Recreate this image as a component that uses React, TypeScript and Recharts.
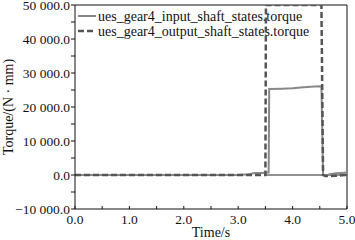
import React from 'react';
import { Line, LineChart, XAxis, YAxis, ReferenceLine } from 'recharts';

const times = [0, 0.5, 1, 1.5, 2, 2.5, 3, 3.2, 3.3, 3.45, 3.5, 3.51, 3.56, 3.57, 3.8, 4.0, 4.2, 4.4, 4.52, 4.53, 4.56, 4.6, 4.7, 4.8, 4.9, 5.0];
const inputTorque = [0, 0, 0, 0, 0, 0, 0, 200, 600, 600, 700, 700, 700, 25300, 25400, 25500, 25800, 26000, 26100, 26100, 300, -200, 300, 500, 600, 700];
const outputTorque = [0, 0, 0, 0, 0, 0, 0, 0, 0, 0, 0, 50000, 50000, 50000, 50000, 50000, 50000, 50000, 50000, 50000, 0, -300, -300, -200, -100, 0];

const xTicks = [0, 0.5, 1, 1.5, 2, 2.5, 3, 3.5, 4, 4.5, 5];
const yTicks = [-10000, -5000, 0, 5000, 10000, 15000, 20000, 25000, 30000, 35000, 40000, 45000, 50000];
const seriesNames = ['ues_gear4_input_shaft_states.torque', 'ues_gear4_output_shaft_states.torque'];

const data = times.map((t, i) => ({ t, input: inputTorque[i], output: outputTorque[i] }));

const font = '"Liberation Serif", "Times New Roman", Times, serif';

const fmtY = (v: number) => {
  if (v % 10000 !== 0) return '';
  const s = Math.abs(v).toString().replace(/\B(?=(\d{3})+(?!\d))/g, ' ') + '.0';
  return v < 0 ? '\u2212' + s : s;
};
const fmtX = (v: number) => (Number.isInteger(v) ? v.toFixed(1) : '');

const CustomLegend = () => (
  <g style={{ fontFamily: font }} fontSize={14} fill="#111">
    <line x1={78} x2={96} y1={16} y2={16} stroke="#888" strokeWidth={2} />
    <text x={98} y={21}>{seriesNames[0]}</text>
    <line x1={78} x2={96} y1={31} y2={31} stroke="#555" strokeWidth={2.5} strokeDasharray="6 3" />
    <text x={98} y={36}>{seriesNames[1]}</text>
  </g>
);

const tickStyle = { fill: '#111', fontSize: 13.5, fontFamily: font };
const labelStyle = { fill: '#111', fontSize: 14, fontFamily: font };

const App = () => {
  return (
    <div style={{ position: 'absolute', left: 0, top: 0, fontFamily: font }}>
      <LineChart
        width={355}
        height={240}
        data={data}
        margin={{ top: 5, right: 8, left: 0, bottom: 0 }}
        style={{ fontFamily: font, overflow: 'visible' }}
      >
        <XAxis
          dataKey="t"
          type="number"
          domain={[0, 5]}
          ticks={xTicks}
          tickFormatter={fmtX}
          interval={0}
          height={31}
          stroke="#111"
          tickSize={-3}
          tickMargin={8}
          tick={tickStyle}
          label={{ value: 'Time/s', position: 'insideBottom', offset: 3, ...labelStyle }}
        />
        <YAxis
          type="number"
          domain={[-10000, 50000]}
          ticks={yTicks}
          tickFormatter={fmtY}
          interval={0}
          width={75}
          stroke="#111"
          tickSize={4}
          tickMargin={1}
          allowDataOverflow
          tick={tickStyle}
          label={{ value: 'Torque/(N \u00b7 mm)', angle: -90, position: 'insideLeft', offset: 8, style: { textAnchor: 'middle' }, ...labelStyle }}
        />
        <ReferenceLine y={50000} stroke="#111" strokeWidth={1} />
        <ReferenceLine x={5} stroke="#111" strokeWidth={1} />
        <ReferenceLine segment={[{ x: 3.5, y: 0 }, { x: 5, y: 0 }]} stroke="#222" strokeWidth={1} />
        <Line type="linear" dataKey="input" stroke="#888" strokeWidth={2} dot={false} isAnimationActive={false} />
        <Line type="linear" dataKey="output" stroke="#555" strokeWidth={2.5} strokeDasharray="6 3" dot={false} isAnimationActive={false} />
        <CustomLegend />
      </LineChart>
    </div>
  );
};

export default App;
